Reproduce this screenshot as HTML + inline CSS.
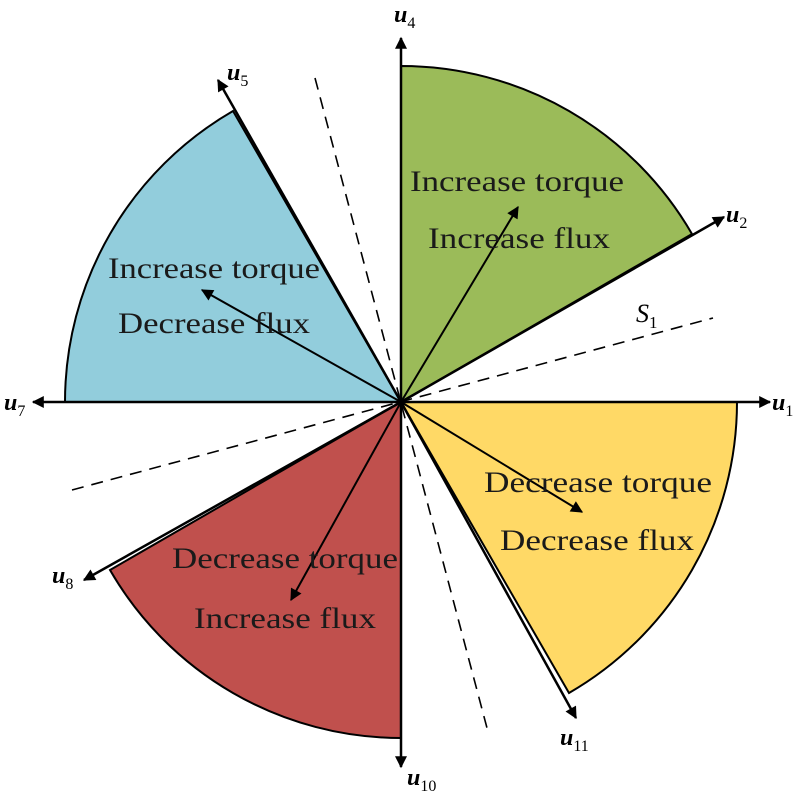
<!DOCTYPE html>
<html><head><meta charset="utf-8"><style>body{margin:0;background:#fff}svg{display:block}</style></head>
<body>
<svg width="803" height="800" viewBox="0 0 803 800" xmlns="http://www.w3.org/2000/svg" font-family="Liberation Serif, serif">
<defs>
<marker id="b" viewBox="0 0 10 10" refX="9" refY="5" markerWidth="14" markerHeight="12" orient="auto" markerUnits="userSpaceOnUse"><path d="M0,0 L10,5 L0,10 Z" fill="#000"/></marker>
</defs>
<path d="M401,402 L401,66 A336,336 0 0 1 692,234 Z" fill="#9bbb59" stroke="#000" stroke-width="2"/>
<path d="M401,402 L233,111 A336,336 0 0 0 65,402 Z" fill="#92cddc" stroke="#000" stroke-width="2"/>
<path d="M401,402 L737,402 A336,336 0 0 1 569,693 Z" fill="#ffd966" stroke="#000" stroke-width="2"/>
<path d="M401,402 L401,738 A336,336 0 0 1 110,570 Z" fill="#c0504d" stroke="#000" stroke-width="2"/>
<g stroke="#000" stroke-width="1.6" stroke-dasharray="12,8" fill="none">
<line x1="315" y1="78" x2="487" y2="728"/>
<line x1="72" y1="490" x2="713" y2="318"/>
</g>
<g stroke="#000" stroke-width="2.5" marker-end="url(#b)">
<line x1="401" y1="402" x2="401" y2="38"/>
<line x1="401" y1="402" x2="770" y2="402"/>
<line x1="401" y1="402" x2="33" y2="402"/>
<line x1="401" y1="402" x2="401" y2="767"/>
<line x1="401" y1="402" x2="218" y2="80"/>
<line x1="401" y1="402" x2="724" y2="217"/>
<line x1="401" y1="402" x2="84" y2="580"/>
<line x1="401" y1="402" x2="576" y2="718"/>
</g>
<g stroke="#000" stroke-width="2" marker-end="url(#b)">
<line x1="401" y1="402" x2="518" y2="207"/>
<line x1="401" y1="402" x2="202" y2="290"/>
<line x1="401" y1="402" x2="582" y2="512"/>
<line x1="401" y1="402" x2="291" y2="600"/>
</g>
<g font-size="30" fill="#1a1a1a" lengthAdjust="spacingAndGlyphs">
<text x="410" y="191" textLength="214" lengthAdjust="spacingAndGlyphs">Increase torque</text>
<text x="428" y="248" textLength="182" lengthAdjust="spacingAndGlyphs">Increase flux</text>
<text x="108" y="278" textLength="212" lengthAdjust="spacingAndGlyphs">Increase torque</text>
<text x="118" y="333" textLength="192" lengthAdjust="spacingAndGlyphs">Decrease flux</text>
<text x="484" y="492" textLength="228" lengthAdjust="spacingAndGlyphs">Decrease torque</text>
<text x="500" y="550" textLength="194" lengthAdjust="spacingAndGlyphs">Decrease flux</text>
<text x="172" y="568" textLength="226" lengthAdjust="spacingAndGlyphs">Decrease torque</text>
<text x="194" y="628" textLength="182" lengthAdjust="spacingAndGlyphs">Increase flux</text>
</g>
<g font-size="24" font-style="italic" font-weight="bold" fill="#000">
<text x="394" y="22">u<tspan font-size="16" font-weight="normal" font-style="normal" dy="6">4</tspan></text>
<text x="227" y="80">u<tspan font-size="16" font-weight="normal" font-style="normal" dy="6">5</tspan></text>
<text x="726" y="222">u<tspan font-size="16" font-weight="normal" font-style="normal" dy="6">2</tspan></text>
<text x="772" y="410">u<tspan font-size="16" font-weight="normal" font-style="normal" dy="6">1</tspan></text>
<text x="4" y="410">u<tspan font-size="16" font-weight="normal" font-style="normal" dy="6">7</tspan></text>
<text x="52" y="583">u<tspan font-size="16" font-weight="normal" font-style="normal" dy="6">8</tspan></text>
<text x="560" y="745">u<tspan font-size="16" font-weight="normal" font-style="normal" dy="6">11</tspan></text>
<text x="407" y="785">u<tspan font-size="16" font-weight="normal" font-style="normal" dy="6">10</tspan></text>
</g>
<text x="636" y="322" font-size="26" font-style="italic" fill="#000">S<tspan font-size="17" font-style="normal" dy="6">1</tspan></text>
</svg>
</body></html>
